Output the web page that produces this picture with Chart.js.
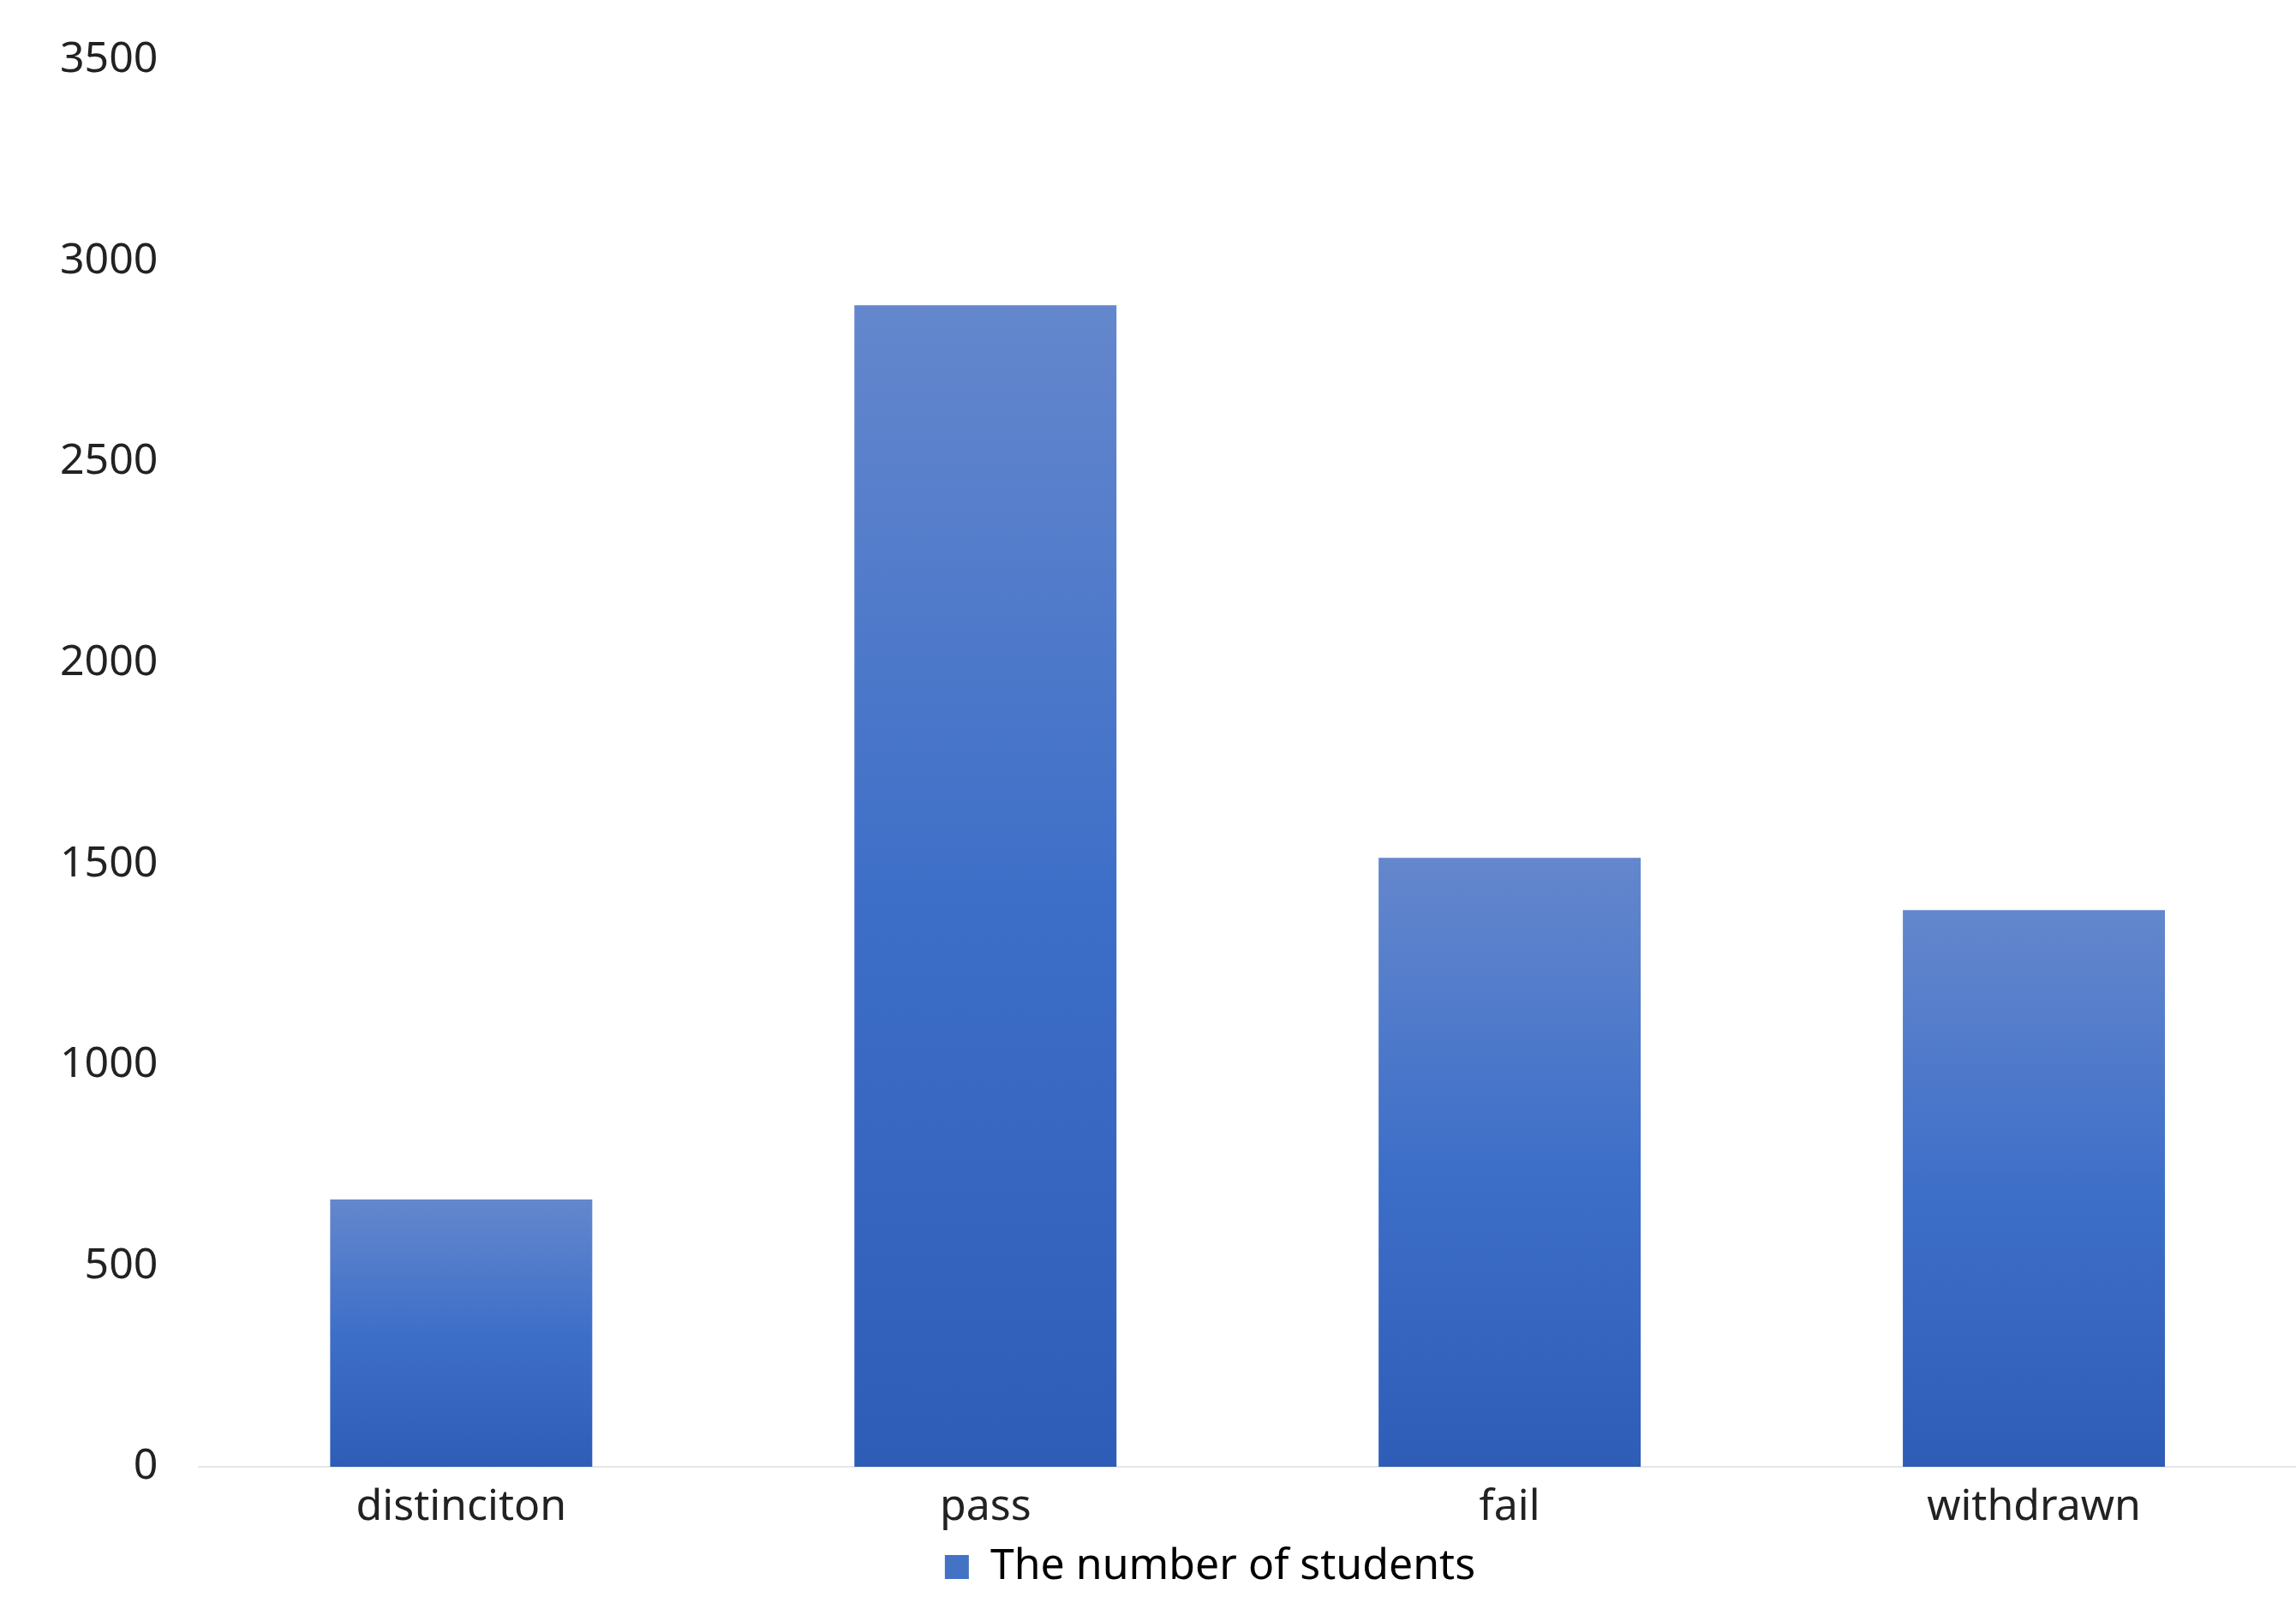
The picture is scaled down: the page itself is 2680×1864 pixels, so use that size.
<!DOCTYPE html>
<html>
<head>
<meta charset="utf-8">
<script src="https://cdn.jsdelivr.net/npm/chart.js@4"></script>
<style>
  body { margin: 0; background: #fff; overflow: hidden; }
  #wrap { width: 2680px; height: 1864px; }
</style>
</head>
<body>
<div id="wrap"><canvas id="chart"></canvas></div>
<script>
const categories = ["distinciton", "pass", "fail", "withdrawn"];
const students = [665, 2890, 1515, 1385];
const yTicks = [0, 500, 1000, 1500, 2000, 2500, 3000, 3500];

function barGradient(context) {
  const chart = context.chart;
  const yScale = chart.scales.y;
  if (!yScale || context.dataIndex === undefined) return "#4472c4";
  const top = yScale.getPixelForValue(context.raw);
  const bottom = yScale.getPixelForValue(0);
  const g = chart.ctx.createLinearGradient(0, top, 0, bottom);
  g.addColorStop(0, "#6487cd");
  g.addColorStop(0.5, "#3e6fc8");
  g.addColorStop(1, "#2e5db7");
  return g;
}

new Chart(document.getElementById("chart"), {
  type: "bar",
  data: {
    labels: categories,
    datasets: [{
      label: "The number of students",
      data: students,
      backgroundColor: barGradient,
      categoryPercentage: 0.5,
      barPercentage: 1
    }]
  },
  options: {
    responsive: true,
    maintainAspectRatio: false,
    devicePixelRatio: 1,
    animation: false,
    layout: { padding: { top: 36, right: -115, left: 30, bottom: 0 } },
    plugins: {
      legend: {
        position: "bottom",
        labels: {
          color: "#222",
          font: { family: "Noto Sans", size: 50 },
          boxWidth: 28,
          boxHeight: 28,
          padding: 4,
          generateLabels: () => [{
            text: "The number of students",
            fillStyle: "#4472c4",
            strokeStyle: "#4472c4",
            lineWidth: 0
          }]
        }
      },
      tooltip: { enabled: false }
    },
    scales: {
      x: {
        grid: { display: false },
        border: { color: "#e6e6e6", width: 2 },
        ticks: { color: "#222", font: { family: "Noto Sans", size: 50 }, padding: 10 }
      },
      y: {
        min: 0,
        max: 3500,
        afterBuildTicks: (axis) => { axis.ticks = yTicks.map(v => ({ value: v })); },
        grid: { display: false },
        border: { display: false },
        ticks: {
          color: "#222",
          font: { family: "Noto Sans", size: 50 },
          padding: 40,
          callback: (v) => String(v)
        }
      }
    }
  }
});
</script>
</body>
</html>
